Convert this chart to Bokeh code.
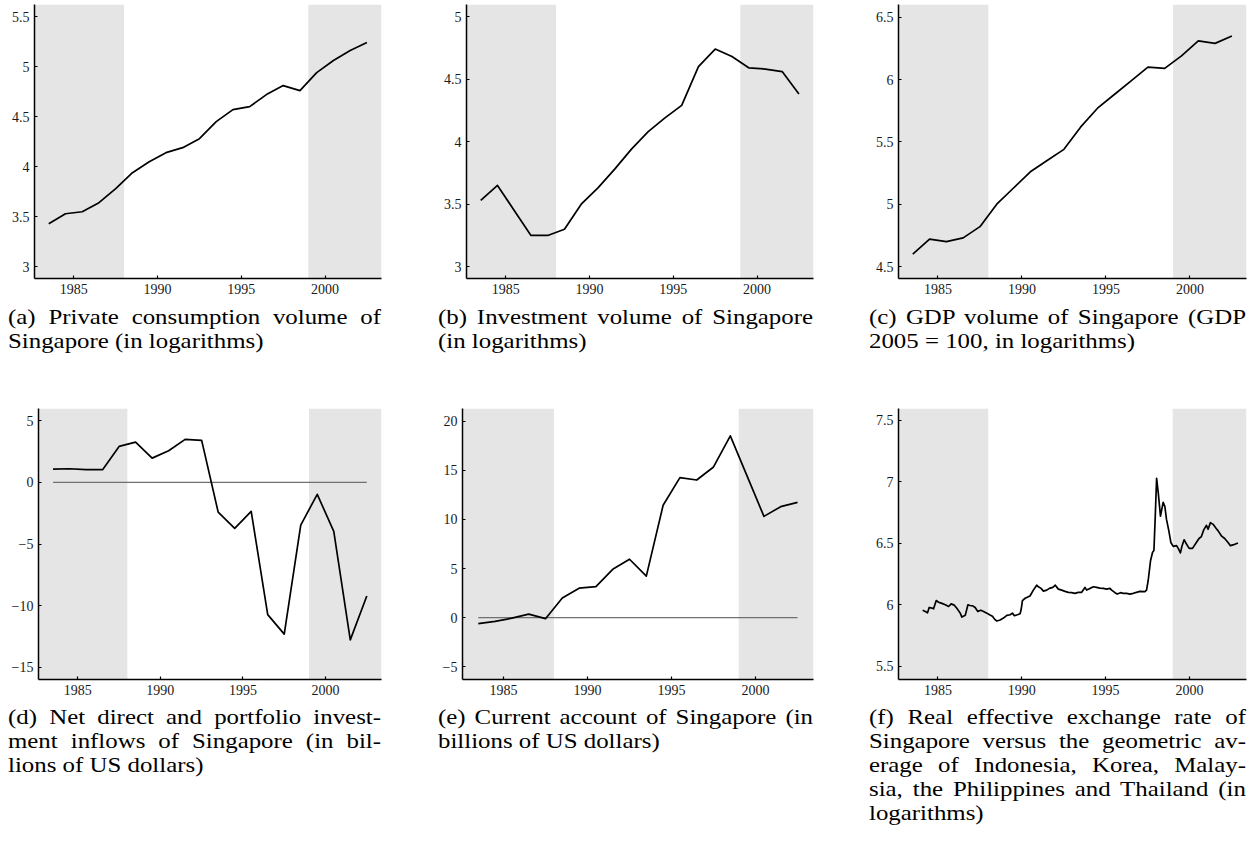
from bokeh.plotting import figure
from bokeh.layouts import column, row
from bokeh.models import (Div, BoxAnnotation, FixedTicker, Range1d, CustomJSTickFormatter,
                          AllLabels, BasicTickFormatter)
from bokeh.embed import file_html
from bokeh.resources import INLINE

# ---------------- data ----------------
years = [1983.5, 1984.5, 1985.5, 1986.5, 1987.5, 1988.5, 1989.5, 1990.5, 1991.5, 1992.5,
         1993.5, 1994.5, 1995.5, 1996.5, 1997.5, 1998.5, 1999.5, 2000.5, 2001.5, 2002.5]

consumption = [3.43, 3.53, 3.55, 3.64, 3.78, 3.94, 4.05, 4.14, 4.19, 4.28,
               4.45, 4.57, 4.60, 4.72, 4.81, 4.76, 4.94, 5.06, 5.16, 5.24]
investment = [3.53, 3.65, 3.45, 3.25, 3.25, 3.30, 3.50, 3.63, 3.78, 3.94,
              4.08, 4.19, 4.29, 4.60, 4.74, 4.68, 4.59, 4.58, 4.56, 4.38]
gdp = [4.60, 4.72, 4.70, 4.73, 4.82, 5.00, 5.13, 5.26, 5.35, 5.44,
       5.62, 5.77, 5.88, 5.99, 6.10, 6.09, 6.19, 6.31, 6.29, 6.35]
inflows = [1.08, 1.11, 1.03, 1.03, 2.92, 3.27, 1.97, 2.57, 3.49, 3.41,
           -2.41, -3.73, -2.35, -10.73, -12.32, -3.46, -0.97, -3.97, -12.78, -9.22]
current_account = [-0.60, -0.37, -0.05, 0.36, -0.10, 2.01, 3.00, 3.17, 4.92, 5.95,
                   4.23, 11.44, 14.25, 14.01, 15.34, 18.51, 14.41, 10.31, 11.30, 11.73]

reer_time = [1984.09, 1984.25, 1984.38, 1984.48, 1984.64, 1984.74, 1984.90, 1985.04, 1985.20, 1985.44,
             1985.64, 1985.79, 1985.97, 1986.13, 1986.33, 1986.43, 1986.63, 1986.79, 1986.92, 1987.08,
             1987.22, 1987.38, 1987.56, 1987.72, 1987.92, 1988.08, 1988.25, 1988.41, 1988.51, 1988.71,
             1988.91, 1989.11, 1989.31, 1989.44, 1989.56, 1989.74, 1989.90, 1989.96, 1990.04, 1990.20,
             1990.49, 1990.69, 1990.89, 1990.99, 1991.15, 1991.29, 1991.49, 1991.65, 1991.85, 1992.00,
             1992.18, 1992.38, 1992.58, 1992.78, 1992.98, 1993.17, 1993.37, 1993.57, 1993.77, 1993.87,
             1994.07, 1994.27, 1994.46, 1994.66, 1994.86, 1995.06, 1995.26, 1995.36, 1995.56, 1995.69,
             1995.89, 1996.05, 1996.25, 1996.45, 1996.65, 1996.84, 1997.04, 1997.34, 1997.44, 1997.54,
             1997.68, 1997.80, 1997.88, 1997.96, 1998.04, 1998.14, 1998.27, 1998.43, 1998.53, 1998.63,
             1998.77, 1998.89, 1999.03, 1999.23, 1999.33, 1999.46, 1999.56, 1999.68, 1999.82, 1999.98,
             2000.18, 2000.41, 2000.57, 2000.71, 2000.85, 2001.01, 2001.11, 2001.25, 2001.41, 2001.55,
             2001.71, 2001.90, 2002.10, 2002.30, 2002.44, 2002.64, 2002.89]
reer_value = [5.956, 5.946, 5.935, 5.978, 5.973, 5.967, 6.034, 6.021, 6.013, 6.000,
              5.986, 6.007, 5.997, 5.972, 5.932, 5.900, 5.914, 6.000, 5.994, 5.991,
              5.978, 5.946, 5.956, 5.946, 5.932, 5.919, 5.906, 5.879, 5.868, 5.876,
              5.892, 5.914, 5.919, 5.932, 5.911, 5.919, 5.927, 5.959, 6.034, 6.053,
              6.071, 6.119, 6.159, 6.146, 6.133, 6.111, 6.119, 6.133, 6.141, 6.159,
              6.127, 6.119, 6.109, 6.101, 6.098, 6.093, 6.101, 6.101, 6.141, 6.119,
              6.133, 6.146, 6.141, 6.135, 6.133, 6.127, 6.133, 6.119, 6.098, 6.087,
              6.098, 6.093, 6.093, 6.087, 6.093, 6.101, 6.109, 6.106, 6.119, 6.199,
              6.360, 6.426, 6.440, 6.720, 7.027, 6.907, 6.720, 6.832, 6.800, 6.693,
              6.600, 6.506, 6.474, 6.480, 6.458, 6.421, 6.480, 6.528, 6.493, 6.458,
              6.458, 6.506, 6.538, 6.554, 6.608, 6.645, 6.613, 6.667, 6.653, 6.627,
              6.600, 6.560, 6.538, 6.506, 6.480, 6.488, 6.501]

x_ticks = [1985, 1990, 1995, 2000]
shade_left_end = 1988
shade_right_start = 1999

yticks_a = [3, 3.5, 4, 4.5, 5, 5.5]
yticks_b = [3, 3.5, 4, 4.5, 5]
yticks_c = [4.5, 5, 5.5, 6, 6.5]
yticks_d = [-15, -10, -5, 0, 5]
yticks_e = [-5, 0, 5, 10, 15, 20]
yticks_f = [5.5, 6, 6.5, 7, 7.5]

captions = {
    "a": ["(a) Private consumption volume of", "Singapore (in logarithms)"],
    "b": ["(b) Investment volume of Singapore", "(in logarithms)"],
    "c": ["(c) GDP volume of Singapore (GDP", "2005 = 100, in logarithms)"],
    "d": ["(d) Net direct and portfolio invest-", "ment inflows of Singapore (in bil-",
          "lions of US dollars)"],
    "e": ["(e) Current account of Singapore (in", "billions of US dollars)"],
    "f": ["(f) Real effective exchange rate of", "Singapore versus the geometric av-",
          "erage of Indonesia, Korea, Malay-", "sia, the Philippines and Thailand (in",
          "logarithms)"],
}

# ---------------- helpers ----------------
YFMT_CODE = """
    const v = Math.round(tick * 100) / 100;
    return v.toString().replace('-', '\\u2212');
"""


def make_fig(w, h, borders, xr, yr, yticks):
    l, r, t, b = borders
    p = figure(width=w, height=h, x_range=Range1d(*xr), y_range=Range1d(*yr),
               output_backend="svg", toolbar_location=None,
               min_border_left=l, min_border_right=r, min_border_top=t, min_border_bottom=b)
    p.outline_line_color = None
    p.xgrid.visible = False
    p.ygrid.visible = False
    p.background_fill_color = "white"
    p.border_fill_color = "white"
    p.xaxis.ticker = FixedTicker(ticks=x_ticks)
    p.yaxis.ticker = FixedTicker(ticks=yticks)
    p.xaxis.formatter = BasicTickFormatter(use_scientific=False)
    p.yaxis.formatter = CustomJSTickFormatter(code=YFMT_CODE)
    for ax in (p.xaxis[0], p.yaxis[0]):
        ax.major_label_policy = AllLabels()
        ax.axis_line_color = "black"
        ax.axis_line_width = 1.5
        ax.major_tick_line_color = "black"
        ax.major_tick_line_width = 1.2
        ax.major_tick_in = 3
        ax.major_tick_out = 0
        ax.minor_tick_line_color = None
        ax.major_label_text_font = "Liberation Serif"
        ax.major_label_text_font_size = "14px"
        ax.major_label_text_color = "#1a1a1a"
        ax.major_label_standoff = 5
    p.add_layout(BoxAnnotation(right=shade_left_end, fill_color="#e5e5e5", fill_alpha=1.0,
                               line_color=None, level="underlay"))
    p.add_layout(BoxAnnotation(left=shade_right_start, fill_color="#e5e5e5", fill_alpha=1.0,
                               line_color=None, level="underlay"))
    return p


def add_series(p, x, y):
    p.line(x, y, line_color="black", line_width=1.7, line_join="round")


def caption(lines, width, height, left, top=0):
    scale = 1.13
    inner_w = width / scale
    parts = []
    for i, ln in enumerate(lines):
        last = (i == len(lines) - 1)
        if last:
            st = "text-align:left;"
        else:
            st = "text-align:justify;text-align-last:justify;"
        parts.append(f'<div style="{st}white-space:nowrap;">{ln}</div>')
    html = (f'<div style="width:{inner_w:.1f}px;transform:scaleX({scale});transform-origin:0 0;'
            f'font-family:\'Liberation Serif\';font-size:22px;line-height:24px;color:#000;">'
            + "".join(parts) + "</div>")
    return Div(text=html, width=width, height=height, margin=(top, 0, 0, left),
               styles={"overflow": "visible"})


# ---------------- panels ----------------
XR = (1982.65, 2003.37)

pa = make_fig(377, 297, (25, 4, 0, 23), XR, (2.883, 5.62), yticks_a)
add_series(pa, years, consumption)

pb = make_fig(432, 297, (81, 4, 0, 23), XR, (2.906, 5.096), yticks_b)
add_series(pb, years, investment)

pc = make_fig(431, 297, (81, 2, 0, 23), XR, (4.404, 6.602), yticks_c)
add_series(pc, years, gdp)

pd_ = make_fig(377, 352, (29, 4, 55, 26), (1982.62, 2003.39), (-16.0, 6.0), yticks_d)
pd_.line([years[0], years[-1]], [0, 0], line_color="#707070", line_width=1.3)
add_series(pd_, years, inflows)

pe = make_fig(432, 352, (77, 4, 48, 26), (1982.56, 2003.45), (-6.29, 21.29), yticks_e)
pe.line([years[0], years[-1]], [0, 0], line_color="#707070", line_width=1.3)
add_series(pe, years, current_account)

pf = make_fig(431, 352, (81, 2, 51, 26), (1982.65, 2003.4), (5.393, 7.594), yticks_f)
add_series(pf, reer_time, reer_value)

cap_row1 = row(caption(captions["a"], 373, 48, 0, 4),
               caption(captions["b"], 375, 48, 57, 4),
               caption(captions["c"], 377, 48, 56, 4))
cap_row2 = row(caption(captions["d"], 373, 120, 0),
               caption(captions["e"], 375, 120, 57),
               caption(captions["f"], 377, 120, 56))

layout = column(row(pa, pb, pc), cap_row1, row(pd_, pe, pf), cap_row2, margin=(4, 0, 0, 8))

open("out.html", "w").write(file_html(layout, INLINE))
